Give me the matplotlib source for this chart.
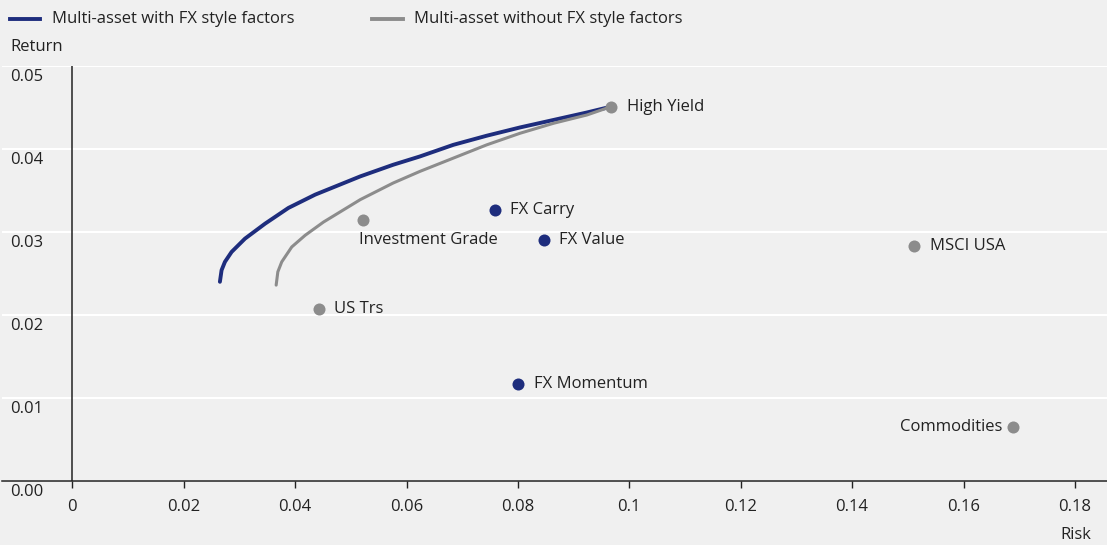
import numpy as np
import matplotlib.pyplot as plt
import matplotlib.transforms as mtransforms

plt.rcParams['font.family'] = ['Open Sans', 'DejaVu Sans']

# efficient frontiers
with_fx_risk = [0.0265, 0.0268, 0.0274, 0.0286, 0.0310, 0.0346, 0.0388, 0.0436, 0.0517,
                0.0576, 0.0624, 0.0684, 0.0744, 0.0804, 0.0864, 0.0924, 0.0967]
with_fx_ret = [0.0240, 0.0254, 0.0264, 0.0276, 0.0292, 0.0310, 0.0329, 0.0345, 0.0367,
               0.0381, 0.0391, 0.0405, 0.0416, 0.0426, 0.0435, 0.0444, 0.0451]
without_fx_risk = [0.0366, 0.0369, 0.0376, 0.0394, 0.0418, 0.0451, 0.0517, 0.0576, 0.0624,
                   0.0684, 0.0744, 0.0804, 0.0864, 0.0924, 0.0967]
without_fx_ret = [0.0236, 0.0252, 0.0264, 0.0282, 0.0296, 0.0312, 0.0339, 0.0359, 0.0373,
                  0.0389, 0.0405, 0.0419, 0.0431, 0.0441, 0.0451]

# single assets
asset_names = ['High Yield', 'Investment Grade', 'MSCI USA', 'US Trs', 'Commodities']
asset_risk = [0.0967, 0.0522, 0.1511, 0.0443, 0.1688]
asset_ret = [0.0451, 0.0314, 0.0283, 0.0207, 0.0065]

fx_names = ['FX Carry', 'FX Value', 'FX Momentum']
fx_risk = [0.0759, 0.0846, 0.0800]
fx_ret = [0.0326, 0.0290, 0.0117]

xticks = [0, 0.02, 0.04, 0.06, 0.08, 0.1, 0.12, 0.14, 0.16, 0.18]
xtick_labels = ['0', '0.02', '0.04', '0.06', '0.08', '0.1', '0.12', '0.14', '0.16', '0.18']
yticks = [0.0, 0.01, 0.02, 0.03, 0.04, 0.05]
ytick_labels = ['0.00', '0.01', '0.02', '0.03', '0.04', '0.05']

navy = '#1e2d7d'
grey = '#8c8c8c'
bg = '#f0f0f0'
txt = '#222222'
fs = 12

fig = plt.figure(figsize=(11.07, 5.45), dpi=100, facecolor=bg)
ax = fig.add_axes([2 / 1107, 64 / 545, 1105 / 1107, 415 / 545], facecolor=bg)

ax.set_xlim(-0.01262, 0.18576)
ax.set_ylim(0, 0.05)
for s in ['top', 'right', 'left']:
    ax.spines[s].set_visible(False)
ax.spines['bottom'].set_color(txt)
ax.spines['bottom'].set_linewidth(1.1)

ax.set_yticks(yticks)
ax.yaxis.grid(True, color='white', lw=1.5)
ax.tick_params(axis='y', length=0, labelleft=False)
ax.set_axisbelow(True)
ax.set_xticks(xticks, xtick_labels)
ax.tick_params(axis='x', length=5, width=1, color=txt, pad=8, labelsize=fs, labelcolor=txt)
ax.axvline(0, color=txt, lw=1.1, zorder=2)

ytr = mtransforms.offset_copy(ax.get_yaxis_transform(), fig=fig, x=0, y=-3, units='dots')
for v, lab in zip(yticks, ytick_labels):
    ax.text(0.0072, v, lab, transform=ytr, ha='left', va='top', fontsize=fs, color=txt)

ax.plot(with_fx_risk, with_fx_ret, color=navy, lw=2.8, solid_capstyle='round', zorder=3)
ax.plot(without_fx_risk, without_fx_ret, color=grey, lw=2.2, solid_capstyle='round', zorder=3)

ax.scatter(asset_risk, asset_ret, s=75, color=grey, zorder=4, linewidths=0)
ax.scatter(fx_risk, fx_ret, s=75, color=navy, zorder=4, linewidths=0)

# label offsets in pixels
offsets = {
    'High Yield': (16, 0, 'left'),
    'Investment Grade': (-4, -20, 'left'),
    'MSCI USA': (16, 0, 'left'),
    'US Trs': (15, 0, 'left'),
    'Commodities': (-10, 0, 'right'),
    'FX Carry': (15, 0, 'left'),
    'FX Value': (15, 0, 'left'),
    'FX Momentum': (16, 0, 'left'),
}
for n, x, y in zip(asset_names + fx_names, asset_risk + fx_risk, asset_ret + fx_ret):
    dx, dy, ha = offsets[n]
    ax.annotate(n, (x, y), xytext=(dx * 0.72, dy * 0.72), textcoords='offset points',
                ha=ha, va='center', fontsize=fs, color=txt)

# legend and axis titles
fig.add_artist(plt.Line2D([10 / 1107, 40 / 1107], [1 - 19 / 545] * 2, color=navy, lw=2.8))
fig.text(52 / 1107, 1 - 19 / 545, 'Multi-asset with FX style factors', ha='left', va='center',
         fontsize=fs, color=txt)
fig.add_artist(plt.Line2D([372 / 1107, 403 / 1107], [1 - 19 / 545] * 2, color=grey, lw=2.8))
fig.text(414 / 1107, 1 - 19 / 545, 'Multi-asset without FX style factors', ha='left', va='center',
         fontsize=fs, color=txt)
fig.text(10 / 1107, 1 - 47 / 545, 'Return', ha='left', va='center', fontsize=fs, color=txt)
fig.text(1091 / 1107, 1 - 535 / 545, 'Risk', ha='right', va='center', fontsize=fs, color=txt)

fig.savefig('out.png', dpi=100, facecolor=bg)
